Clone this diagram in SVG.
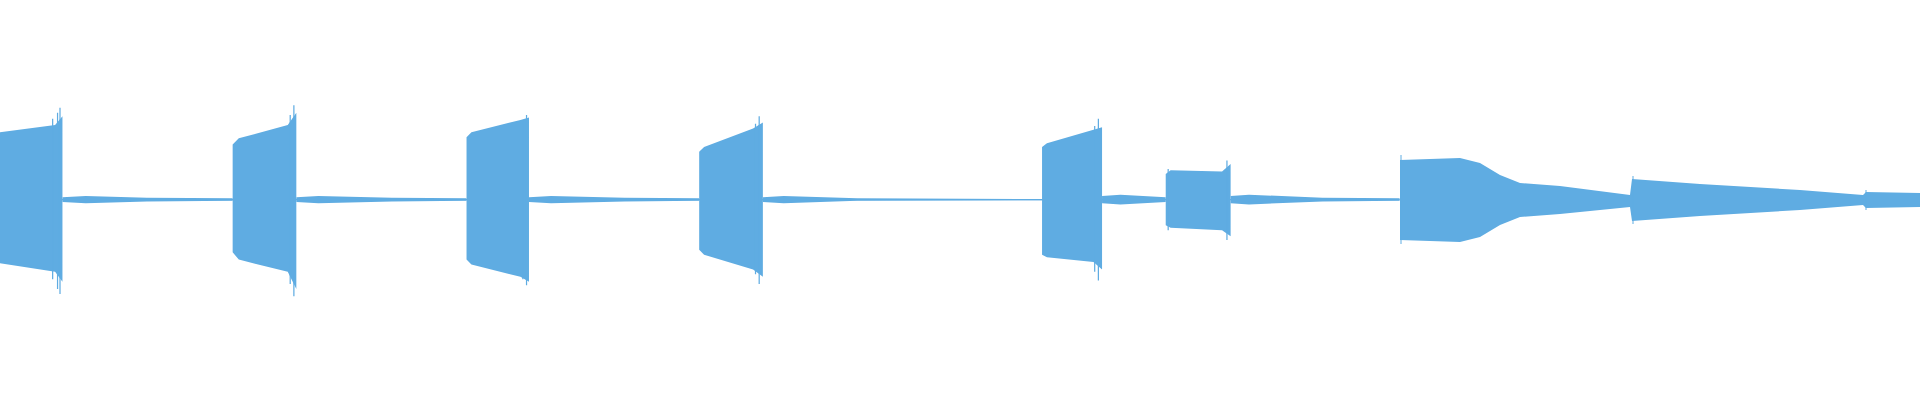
<svg xmlns="http://www.w3.org/2000/svg" width="1920" height="400" viewBox="0 0 1920 400">
<style>.w{fill:#5FACE2}.l{stroke:#5FACE2;stroke-width:1;fill:none}</style>
<rect width="1920" height="400" fill="#fff"/>
<g transform="scale(1.2245)">
<path class="l" d="M0 163H1143"/>
<path class="w" d="M51 161L70 160L120 161.5L190 162V164L120 164.5L70 166L51 165Z"/>
<path class="w" d="M242 161L260 160L320 161.5L381 162V164L320 164.5L260 166L242 165Z"/>
<path class="w" d="M432 161L450 160L510 161.5L571 162V164L510 164.5L450 166L432 165Z"/>
<path class="w" d="M623 161L640 160L700 162L851 162.5V163.5L700 164L640 166L623 165Z"/>
<path class="w" d="M900 160L915 159L952 161V165L915 167L900 166Z"/>
<path class="w" d="M1005 160L1020 159L1080 161.5L1143 162V164L1080 164.5L1020 167L1005 166Z"/>
<g id="b1"><path class="w" d="M0 108L45 102L51 95V230L45 222L0 215Z"/><path class="l" d="M49 88V240M47 92V236M43 97V228"/></g>
<g id="b2"><path class="w" d="M190 118L195 113L235 102L242 92V236L235 222L195 212L190 206Z"/><path class="l" d="M240 86V242M237 94V232"/></g>
<g id="b3"><path class="w" d="M381 112L385 108L425 98L432 96V230L425 226L385 216L381 212Z"/><path class="l" d="M430 94V233M427 98V228"/></g>
<g id="b4"><path class="w" d="M571 124L575 120L615 105L623 100V226L615 220L575 208L571 204Z"/><path class="l" d="M620 95V232M617 101V224"/></g>
<g id="b5"><path class="w" d="M851 120L855 117L893 106L900 104V220L893 214L855 210L851 208Z"/><path class="l" d="M897 97V229M894 103V222"/></g>
<g id="b6"><path class="w" d="M952 142L956 139L998 140L1005 134V193L998 188L956 186L952 184Z"/><path class="l" d="M1002 131V196M954 138V188"/></g>
</g>
<g id="b7"><path class="w" d="M1400 160L1460 158L1480 163L1500 175L1520 183L1560 186L1630 195L1632 179L1700 184L1800 190L1863 195L1866 192L1920 193V207L1866 208L1863 205L1800 210L1700 216L1632 221L1630 207L1560 214L1520 217L1500 225L1480 237L1460 242L1400 240Z"/><path class="l" d="M1401 155V244M1633 176V224M1866 190V210"/></g>
</svg>
